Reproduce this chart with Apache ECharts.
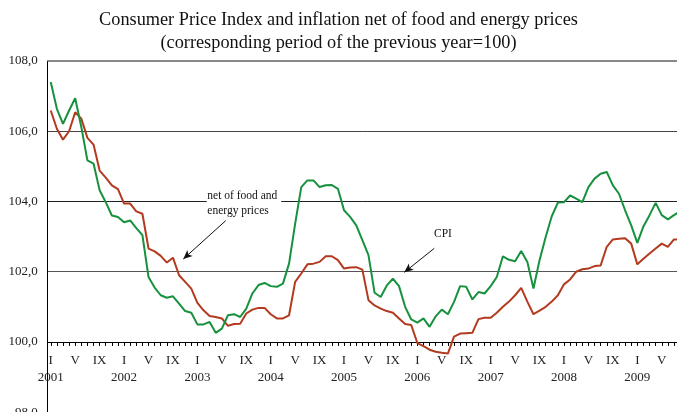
<!DOCTYPE html>
<html>
<head>
<meta charset="utf-8">
<script src="https://cdn.jsdelivr.net/npm/echarts@6/dist/echarts.min.js"></script>
<style>
html,body{margin:0;padding:0;background:#fff;}
#chart{width:677px;height:412px;}
</style>
</head>
<body>
<div id="chart"></div>
<script>
// ---- data ----
const years = ['2001','2002','2003','2004','2005','2006','2007','2008','2009'];
const monthNumerals = ['I','II','III','IV','V','VI','VII','VIII','IX','X','XI','XII'];
const labelMonths = ['I','V','IX'];
const yTickValues = [98, 100, 102, 104, 106, 108];

// CPI (green)
const cpi = [
  107.40,106.64,106.21,106.59,106.94,106.12,105.17,105.08,104.32,103.98,103.60,103.56,
  103.41,103.46,103.24,103.04,101.85,101.55,101.33,101.26,101.30,101.09,100.88,100.83,
  100.50,100.50,100.57,100.26,100.38,100.76,100.79,100.71,100.95,101.38,101.62,101.68,
  101.59,101.57,101.66,102.23,103.37,104.41,104.60,104.60,104.41,104.46,104.47,104.36,
  103.75,103.56,103.32,102.90,102.47,101.40,101.28,101.61,101.80,101.59,101.00,100.64,
  100.55,100.67,100.43,100.73,100.92,100.79,101.14,101.59,101.57,101.21,101.42,101.38,
  101.59,101.85,102.44,102.34,102.30,102.59,102.28,101.52,102.33,102.99,103.58,103.97,
  103.98,104.17,104.08,103.98,104.41,104.65,104.79,104.84,104.46,104.22,103.75,103.32,
  102.82,103.29,103.61,103.96,103.61,103.49,103.61,103.72
];
// net of food and energy prices (red)
const core = [
  106.59,106.07,105.76,106.00,106.54,106.36,105.81,105.62,104.88,104.68,104.46,104.35,
  103.94,103.94,103.72,103.65,102.66,102.58,102.45,102.26,102.40,101.90,101.71,101.52,
  101.11,100.90,100.74,100.71,100.67,100.46,100.51,100.52,100.81,100.92,100.97,100.97,
  100.79,100.67,100.67,100.76,101.71,101.95,102.21,102.23,102.28,102.44,102.44,102.33,
  102.09,102.12,102.13,102.06,101.19,101.04,100.95,100.88,100.83,100.67,100.51,100.48,
  99.97,99.88,99.78,99.72,99.69,99.67,100.15,100.24,100.25,100.26,100.65,100.69,
  100.69,100.83,101.00,101.15,101.33,101.54,101.15,100.79,100.89,101.00,101.15,101.33,
  101.64,101.78,102.00,102.07,102.09,102.16,102.18,102.71,102.92,102.94,102.95,102.80,
  102.21,102.37,102.52,102.66,102.80,102.71,102.92,102.92
];

// categories (one per month)
const categories = [];
years.forEach(y => monthNumerals.forEach(m => categories.push(m + ' ' + y)));
categories.length = cpi.length;

// ---- layout ----
const yMin = 98, yMax = 108, yInterval = 2, xAxisAt = 100;
const gridTop = 61, gridLeft = 47.7, gridHeight = 351.2, bandWidth = 6.11;
const gridWidth = bandWidth * categories.length;
const serif = '"Liberation Serif", "DejaVu Serif", serif';

const chart = echarts.init(document.getElementById('chart'), null, {renderer: 'canvas'});
chart.setOption({
  animation: false,
  backgroundColor: '#fff',
  title: {
    text: 'Consumer Price Index and inflation net of food and energy prices\n(corresponding period of the previous year=100)',
    left: 'center',
    top: 3,
    textStyle: {fontFamily: serif, fontSize: 18.3, fontWeight: 'normal', color: '#111', lineHeight: 23.5}
  },
  grid: {
    left: gridLeft, top: gridTop, width: gridWidth, height: gridHeight,
    containLabel: false, outerBoundsMode: 'none'
  },
  xAxis: {
    type: 'category',
    data: categories,
    boundaryGap: true,
    offset: -gridHeight * (xAxisAt - yMin) / (yMax - yMin),
    axisLine: {show: true, onZero: false, lineStyle: {color: '#000', width: 1}},
    axisTick: {show: true, alignWithLabel: true, interval: 0, length: 4, lineStyle: {color: '#000'}},
    axisLabel: {
      interval: 0,
      margin: 10,
      fontFamily: serif,
      fontSize: 13,
      lineHeight: 17,
      color: '#222',
      hideOverlap: false,
      formatter: function (value, idx) {
        const m = monthNumerals[idx % 12];
        if (labelMonths.indexOf(m) < 0) return '';
        return idx % 12 === 0 ? m + '\n' + years[Math.floor(idx / 12)] : m;
      }
    },
    splitLine: {show: false}
  },
  yAxis: {
    type: 'value',
    min: yMin, max: yMax, interval: yInterval,
    axisLine: {show: true, lineStyle: {color: '#000', width: 1}},
    axisTick: {show: false},
    axisLabel: {
      margin: 10,
      fontFamily: serif, fontSize: 13, color: '#222',
      formatter: v => v.toFixed(1).replace('.', ',')
    },
    splitLine: {show: true, lineStyle: {color: ['#999', '#000', '#555', '#222', '#444', '#888'], width: 1}}
  },
  series: [
    {
      name: 'net of food and energy prices',
      type: 'line',
      data: core,
      showSymbol: false,
      symbol: 'none',
      lineStyle: {color: '#b33a1f', width: 2},
      z: 3,
      markLine: {
        silent: true,
        symbol: ['none', 'arrow'],
        symbolSize: [6, 9],
        label: {show: false},
        lineStyle: {color: '#111', width: 1, type: 'solid'},
        data: [
          [{x: 225.7, y: 220.7}, {x: 183.3, y: 259}],
          [{x: 434.3, y: 248.3}, {x: 404.3, y: 272.3}]
        ]
      }
    },
    {
      name: 'CPI',
      type: 'line',
      data: cpi,
      showSymbol: false,
      symbol: 'none',
      lineStyle: {color: '#17913d', width: 2},
      z: 4,
      markLine: {
        silent: true,
        symbol: ['none', 'none'],
        label: {show: false},
        lineStyle: {color: '#888', width: 2, type: 'solid'},
        data: [{yAxis: yMax}]
      }
    }
  ],
  graphic: [
    {
      type: 'text', left: 206.7, top: 188, z: 10,
      style: {
        text: 'net of food and\nenergy prices',
        font: '11.5px ' + serif, fill: '#111', lineHeight: 14.5,
        backgroundColor: '#fff', padding: [1, 4, 1, 0.6]
      }
    },
    {
      type: 'text', left: 434, top: 228, z: 10,
      style: {text: 'CPI', font: '11.5px ' + serif, fill: '#111'}
    }
  ]
});
</script>
</body>
</html>
